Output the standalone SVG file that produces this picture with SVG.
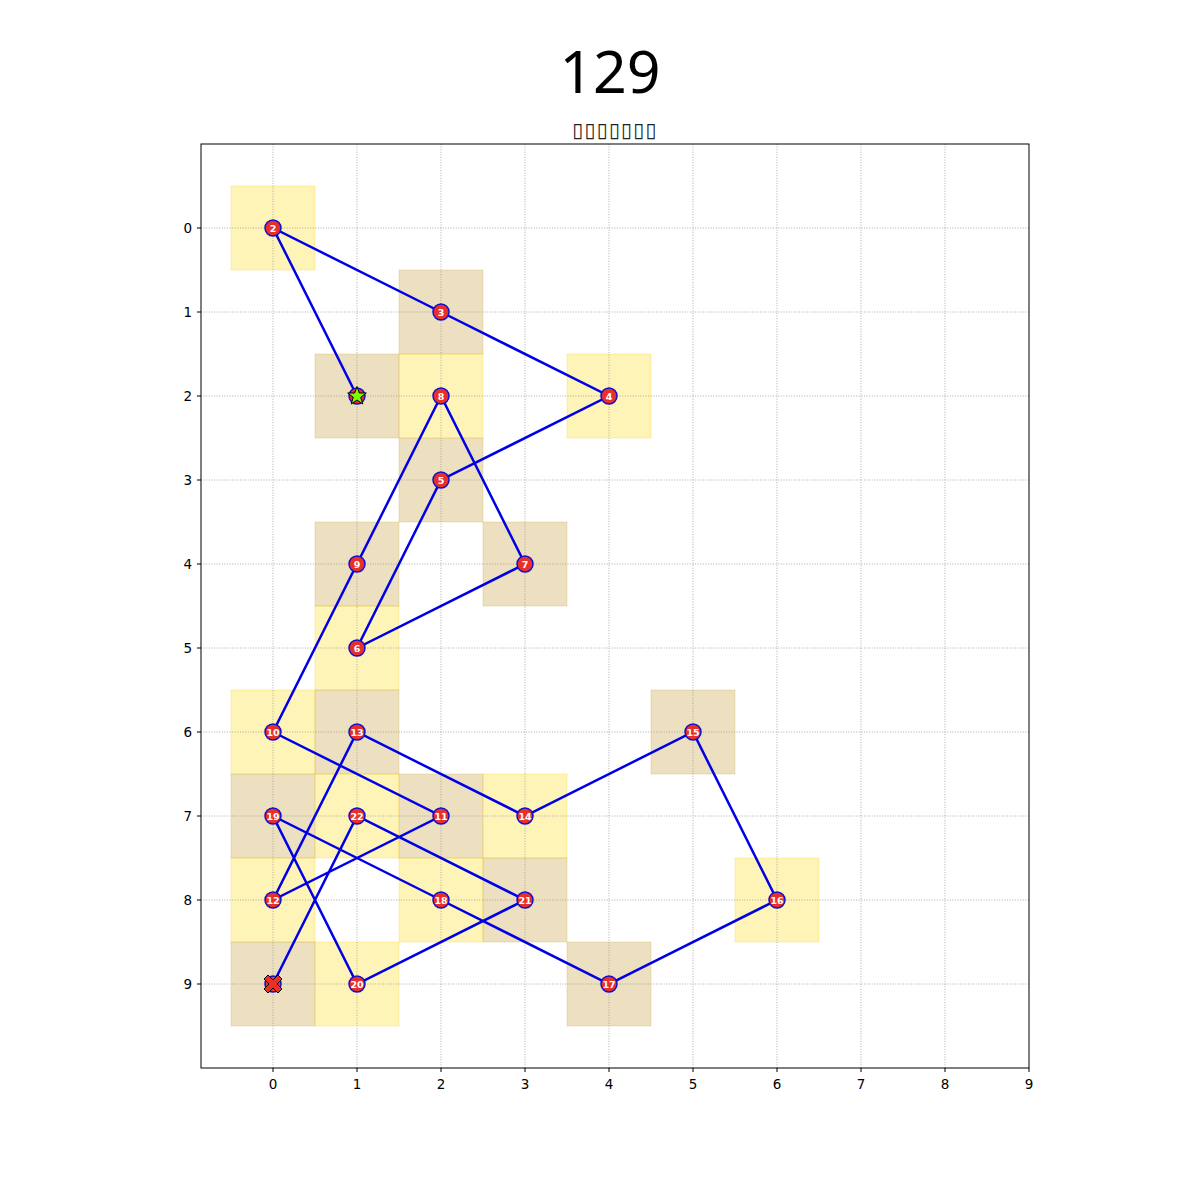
<svg xmlns="http://www.w3.org/2000/svg" width="1200" height="1200" viewBox="0 0 1200 1200">
<style>
.y{fill:#FFD700;fill-opacity:0.28;stroke:#F0C800;stroke-opacity:0.25;stroke-width:1}
.t{fill:#B8860B;fill-opacity:0.26;stroke:#C8A030;stroke-opacity:0.25;stroke-width:1}
.g{stroke:#999;stroke-width:0.8;stroke-dasharray:1,1.6;fill:none}
.e{stroke:#0000e6;stroke-width:2.5;fill:none;stroke-linecap:round}
.n circle{fill:#e8302a;stroke:#1010d0;stroke-width:1.5}
.n text{fill:#fff;font-family:"DejaVu Sans",sans-serif;font-weight:bold;font-size:9.5px;text-anchor:middle}
.tk{font-family:"DejaVu Sans",sans-serif;font-size:13.5px;fill:#000}
</style>
<rect width="1200" height="1200" fill="#fff"/>
<text x="610" y="93" font-family="Noto Sans, sans-serif" font-size="59" text-anchor="middle">129</text>
<text x="615" y="137" font-family="DejaVu Sans, sans-serif" font-size="20" letter-spacing="1.2" text-anchor="middle" fill="#222">▯▯▯▯▯▯▯</text>
<g id="cells">
<rect class="y" x="231" y="186" width="84" height="84"/>
<rect class="t" x="399" y="270" width="84" height="84"/>
<rect class="y" x="567" y="354" width="84" height="84"/>
<rect class="t" x="399" y="438" width="84" height="84"/>
<rect class="y" x="315" y="606" width="84" height="84"/>
<rect class="t" x="483" y="522" width="84" height="84"/>
<rect class="y" x="399" y="354" width="84" height="84"/>
<rect class="t" x="315" y="522" width="84" height="84"/>
<rect class="y" x="231" y="690" width="84" height="84"/>
<rect class="t" x="399" y="774" width="84" height="84"/>
<rect class="y" x="231" y="858" width="84" height="84"/>
<rect class="t" x="315" y="690" width="84" height="84"/>
<rect class="y" x="483" y="774" width="84" height="84"/>
<rect class="t" x="651" y="690" width="84" height="84"/>
<rect class="y" x="735" y="858" width="84" height="84"/>
<rect class="t" x="567" y="942" width="84" height="84"/>
<rect class="y" x="399" y="858" width="84" height="84"/>
<rect class="t" x="231" y="774" width="84" height="84"/>
<rect class="y" x="315" y="942" width="84" height="84"/>
<rect class="t" x="483" y="858" width="84" height="84"/>
<rect class="y" x="315" y="774" width="84" height="84"/>
<rect class="t" x="231" y="942" width="84" height="84"/>
<rect class="t" x="315" y="354" width="84" height="84"/>
</g>
<g id="grid" class="g">
<path d="M273 144V1068M357 144V1068M441 144V1068M525 144V1068M609 144V1068M693 144V1068M777 144V1068M861 144V1068M945 144V1068"/>
<path d="M201 228H1029M201 312H1029M201 396H1029M201 480H1029M201 564H1029M201 648H1029M201 732H1029M201 816H1029M201 900H1029M201 984H1029"/>
</g>
<g id="axes">
<rect x="201" y="144" width="828" height="924" fill="none" stroke="#000" stroke-width="1"/>
<path d="M273 1068v4M357 1068v4M441 1068v4M525 1068v4M609 1068v4M693 1068v4M777 1068v4M861 1068v4M945 1068v4M1029 1068v4M201 228h-4M201 312h-4M201 396h-4M201 480h-4M201 564h-4M201 648h-4M201 732h-4M201 816h-4M201 900h-4M201 984h-4" stroke="#000" stroke-width="1"/>
<g class="tk" text-anchor="middle">
<text x="273" y="1089">0</text><text x="357" y="1089">1</text><text x="441" y="1089">2</text><text x="525" y="1089">3</text><text x="609" y="1089">4</text><text x="693" y="1089">5</text><text x="777" y="1089">6</text><text x="861" y="1089">7</text><text x="945" y="1089">8</text><text x="1029" y="1089">9</text>
</g>
<g class="tk" text-anchor="end">
<text x="192" y="233">0</text><text x="192" y="317">1</text><text x="192" y="401">2</text><text x="192" y="485">3</text><text x="192" y="569">4</text><text x="192" y="653">5</text><text x="192" y="737">6</text><text x="192" y="821">7</text><text x="192" y="905">8</text><text x="192" y="989">9</text>
</g>
</g>
<g id="connectors" class="e">
<polyline points="357,396 273,228 441,312 609,396 441,480 357,648 525,564 441,396 357,564 273,732 441,816 273,900 357,732 525,816 693,732 777,900 609,984 441,900 273,816 357,984 525,900 357,816 273,984"/>
</g>
<g id="node-1"><circle cx="357" cy="396" r="8" fill="#e8302a" stroke="#1010d0" stroke-width="1.5"/><polygon points="357,386.5 359.3,393 366.3,393 360.7,397.3 362.8,404 357,400 351.2,404 353.3,397.3 347.7,393 354.7,393" fill="#7CFC00" stroke="#000" stroke-width="1"/></g>
<g id="node-2" class="n"><circle cx="273" cy="228" r="8"/><text x="273" y="231.5">2</text></g>
<g id="node-3" class="n"><circle cx="441" cy="312" r="8"/><text x="441" y="315.5">3</text></g>
<g id="node-4" class="n"><circle cx="609" cy="396" r="8"/><text x="609" y="399.5">4</text></g>
<g id="node-5" class="n"><circle cx="441" cy="480" r="8"/><text x="441" y="483.5">5</text></g>
<g id="node-6" class="n"><circle cx="357" cy="648" r="8"/><text x="357" y="651.5">6</text></g>
<g id="node-7" class="n"><circle cx="525" cy="564" r="8"/><text x="525" y="567.5">7</text></g>
<g id="node-8" class="n"><circle cx="441" cy="396" r="8"/><text x="441" y="399.5">8</text></g>
<g id="node-9" class="n"><circle cx="357" cy="564" r="8"/><text x="357" y="567.5">9</text></g>
<g id="node-10" class="n"><circle cx="273" cy="732" r="8"/><text x="273" y="735.5">10</text></g>
<g id="node-11" class="n"><circle cx="441" cy="816" r="8"/><text x="441" y="819.5">11</text></g>
<g id="node-12" class="n"><circle cx="273" cy="900" r="8"/><text x="273" y="903.5">12</text></g>
<g id="node-13" class="n"><circle cx="357" cy="732" r="8"/><text x="357" y="735.5">13</text></g>
<g id="node-14" class="n"><circle cx="525" cy="816" r="8"/><text x="525" y="819.5">14</text></g>
<g id="node-15" class="n"><circle cx="693" cy="732" r="8"/><text x="693" y="735.5">15</text></g>
<g id="node-16" class="n"><circle cx="777" cy="900" r="8"/><text x="777" y="903.5">16</text></g>
<g id="node-17" class="n"><circle cx="609" cy="984" r="8"/><text x="609" y="987.5">17</text></g>
<g id="node-18" class="n"><circle cx="441" cy="900" r="8"/><text x="441" y="903.5">18</text></g>
<g id="node-19" class="n"><circle cx="273" cy="816" r="8"/><text x="273" y="819.5">19</text></g>
<g id="node-20" class="n"><circle cx="357" cy="984" r="8"/><text x="357" y="987.5">20</text></g>
<g id="node-21" class="n"><circle cx="525" cy="900" r="8"/><text x="525" y="903.5">21</text></g>
<g id="node-22" class="n"><circle cx="357" cy="816" r="8"/><text x="357" y="819.5">22</text></g>
<g id="node-end"><circle cx="273" cy="984" r="8" fill="#e8302a" stroke="#1010d0" stroke-width="1.5"/><polygon points="264,979 268,975 273,980 278,975 282,979 277,984 282,989 278,993 273,988 268,993 264,989 269,984" fill="#e8302a" stroke="#000" stroke-width="1"/></g>
</svg>
